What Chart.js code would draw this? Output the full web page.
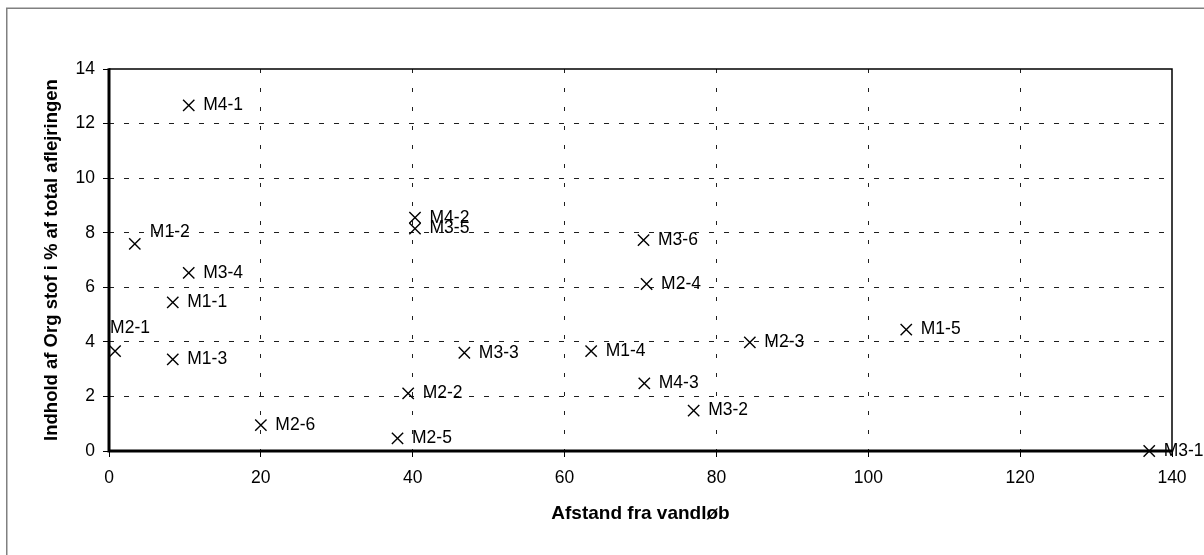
<!DOCTYPE html>
<html>
<head>
<meta charset="utf-8">
<script src="https://cdn.jsdelivr.net/npm/chart.js@4.4.1/dist/chart.umd.min.js"></script>
<style>
  html, body { margin: 0; padding: 0; background: #fff; }
  canvas { display: block; }
</style>
</head>
<body>
<canvas id="chart" width="1204" height="555"></canvas>
<script>
// Sample points: distance from the stream vs. organic matter share of the deposit
const sampleNames = ['M4-1', 'M1-2', 'M3-4', 'M1-1', 'M2-1', 'M1-3', 'M2-6', 'M4-2', 'M3-5', 'M2-2',
                     'M2-5', 'M3-3', 'M1-4', 'M3-6', 'M2-4', 'M4-3', 'M3-2', 'M2-3', 'M1-5', 'M3-1'];
const distance    = [10.5, 3.4, 10.5, 8.4, 0.8, 8.4, 20.0, 40.3, 40.3, 39.4,
                     38.0, 46.8, 63.5, 70.4, 70.8, 70.5, 77.0, 84.4, 105.0, 137.0];
const organicPct  = [12.67, 7.59, 6.53, 5.45, 3.66, 3.36, 0.95, 8.55, 8.15, 2.11,
                     0.46, 3.60, 3.66, 7.73, 6.12, 2.48, 1.48, 3.98, 4.45, 0.0];

const xTickValues = [0, 20, 40, 60, 80, 100, 120, 140];
const yTickValues = [0, 2, 4, 6, 8, 10, 12, 14];
const xTitle = 'Afstand fra vandløb';
const yTitle = 'Indhold af Org stof i % af total aflejringen';

// Label placement: default is to the right of the marker; a few were moved by hand
const labelDefaultShift = [14.5, 0];
const labelShift = { 'M1-2': [15, -12], 'M2-1': [-5, -23] };

const FONT = '"Liberation Sans", Arial, Helvetica, sans-serif';

const points = distance.map((d, i) => ({ x: d, y: organicPct[i] }));

// White page with the grey chart frame
const pageFrame = {
  id: 'pageFrame',
  beforeDraw(chart) {
    const c = chart.ctx;
    c.save();
    c.fillStyle = '#fff';
    c.fillRect(0, 0, chart.width, chart.height);
    c.strokeStyle = '#808080';
    c.lineWidth = 1.5;
    c.strokeRect(6.75, 8.25, chart.width + 40, chart.height + 40);
    c.restore();
  }
};

// Plot area outline: thin top/right edges, heavy axis lines on left/bottom
const plotFrame = {
  id: 'plotFrame',
  beforeDatasetsDraw(chart) {
    const { left, right, top, bottom } = chart.chartArea;
    const c = chart.ctx;
    c.save();
    c.strokeStyle = '#000';
    c.lineWidth = 1.5;
    c.beginPath();
    c.moveTo(left, top);
    c.lineTo(right, top);
    c.lineTo(right, bottom);
    c.stroke();
    c.lineWidth = 3;
    c.beginPath();
    c.moveTo(left, top - 0.75);
    c.lineTo(left, bottom);
    c.lineTo(right + 0.75, bottom);
    c.stroke();
    c.restore();
  }
};

// Sample name next to each marker
const pointNames = {
  id: 'pointNames',
  afterDatasetsDraw(chart) {
    const meta = chart.getDatasetMeta(0);
    const c = chart.ctx;
    c.save();
    c.font = '17.5px ' + FONT;
    c.fillStyle = '#000';
    c.textAlign = 'left';
    c.textBaseline = 'middle';
    meta.data.forEach((el, i) => {
      const name = sampleNames[i];
      const [dx, dy] = labelShift[name] || labelDefaultShift;
      c.fillText(name, el.x + dx, el.y + dy);
    });
    c.restore();
  }
};

const hideEdges = (max) => (ctx) =>
  (ctx.tick && (ctx.tick.value === 0 || ctx.tick.value === max)) ? 'rgba(0,0,0,0)' : '#1e1e1e';

new Chart(document.getElementById('chart'), {
  type: 'scatter',
  data: {
    datasets: [{
      data: points,
      pointStyle: 'crossRot',
      pointRadius: 8,
      pointBorderWidth: 1.4,
      pointBorderColor: '#000',
      pointBackgroundColor: '#000',
      clip: false
    }]
  },
  options: {
    responsive: false,
    devicePixelRatio: 1,
    animation: false,
    events: [],
    layout: { padding: { top: 69, right: 32, left: 0, bottom: 0 } },
    plugins: { legend: { display: false }, tooltip: { enabled: false }, title: { display: false } },
    scales: {
      x: {
        type: 'linear',
        min: xTickValues[0],
        max: xTickValues[xTickValues.length - 1],
        afterBuildTicks: (s) => { s.ticks = xTickValues.map(v => ({ value: v })); },
        afterFit: (s) => { s.height = 104; },
        border: { display: false, dash: [4, 15] },
        grid: {
          color: hideEdges(140),
          lineWidth: 1,
          tickColor: '#000',
          tickLength: 6,
          tickWidth: 1,
          tickBorderDash: []
        },
        ticks: {
          color: '#000',
          padding: 11,
          maxRotation: 0,
          font: { family: FONT, size: 17.5 }
        },
        title: {
          display: true,
          text: xTitle,
          color: '#000',
          font: { family: FONT, size: 19, weight: 'bold' },
          padding: { top: 0, bottom: 29.6 }
        }
      },
      y: {
        type: 'linear',
        min: yTickValues[0],
        max: yTickValues[yTickValues.length - 1],
        afterBuildTicks: (s) => { s.ticks = yTickValues.map(v => ({ value: v })); },
        afterFit: (s) => { s.width = 109; },
        border: { display: false, dash: [5, 10] },
        grid: {
          color: hideEdges(14),
          lineWidth: 1,
          tickColor: '#000',
          tickLength: 6,
          tickWidth: 1,
          tickBorderDash: []
        },
        ticks: {
          color: '#000',
          padding: 8,
          font: { family: FONT, size: 17.5 }
        },
        title: {
          display: true,
          text: yTitle,
          color: '#000',
          font: { family: FONT, size: 18.5, weight: 'bold' },
          padding: { top: 41, bottom: 0 }
        }
      }
    }
  },
  plugins: [pageFrame, plotFrame, pointNames]
});
</script>
</body>
</html>
